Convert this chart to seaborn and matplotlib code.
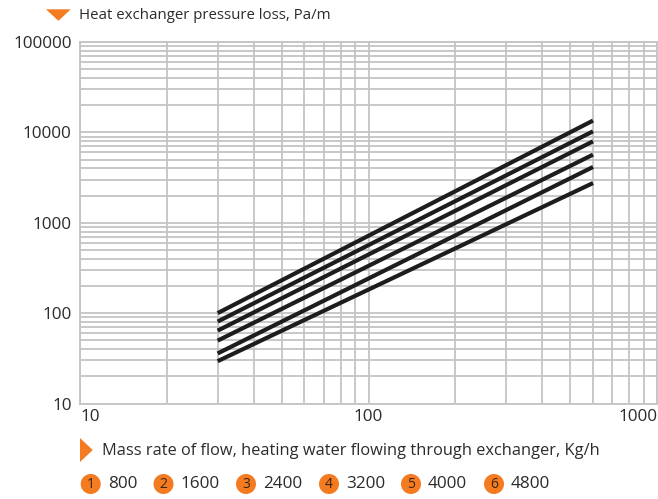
import matplotlib
matplotlib.use("Agg")
import matplotlib.pyplot as plt
import seaborn as sns
import pandas as pd
import numpy as np
from matplotlib.ticker import LogLocator, FixedLocator, NullFormatter
from matplotlib.patches import Polygon, Circle
from matplotlib.transforms import IdentityTransform

# ---- data ----
flow = [30, 600]
series_names = ["1", "2", "3", "4", "5", "6"]
line_1 = [100, 13500]
line_2 = [80.6, 10270]
line_3 = [64.0, 7960]
line_4 = [49.6, 5670]
line_5 = [35.8, 4140]
line_6 = [29.4, 2750]
legend_numbers = ["1", "2", "3", "4", "5", "6"]
legend_values = ["800", "1600", "2400", "3200", "4000", "4800"]
x_ticks = [10, 100, 1000]
y_ticks = [10, 100, 1000, 10000, 100000]

rows = []
for name, vals in zip(series_names, [line_1, line_2, line_3, line_4, line_5, line_6]):
    for x, y in zip(flow, vals):
        rows.append({"flow": x, "loss": y, "series": name})
df = pd.DataFrame(rows)

sns.set_theme(style="white")
plt.rcParams["font.family"] = ["Open Sans", "DejaVu Sans"]

ORANGE = "#f47b20"
GRID = "#c4c4c6"
TEXT = "#2b2b2b"
W, H = 658, 499

fig = plt.figure(figsize=(W / 100, H / 100), dpi=100)
ax = fig.add_axes([80 / W, 1 - 403.5 / H, 577 / W, 361.5 / H])

sns.lineplot(data=df, x="flow", y="loss", hue="series", palette=["#1f1c1d"] * 6,
             linewidth=3.0, legend=False, ax=ax, solid_capstyle="butt")

ax.set_xscale("log")
ax.set_yscale("log")
ax.set_xlim(10, 1000)
ax.set_ylim(10, 100000)

ax.xaxis.set_major_locator(FixedLocator(x_ticks))
ax.yaxis.set_major_locator(FixedLocator(y_ticks))
ax.xaxis.set_minor_locator(LogLocator(base=10, subs=np.arange(2, 10)))
ax.yaxis.set_minor_locator(LogLocator(base=10, subs=np.arange(2, 10)))
ax.xaxis.set_minor_formatter(NullFormatter())
ax.yaxis.set_minor_formatter(NullFormatter())
ax.set_xticklabels([str(v) for v in x_ticks])
ax.set_yticklabels([str(v) for v in y_ticks])

ax.grid(True, which="both", color=GRID, linewidth=1.3)
ax.set_axisbelow(True)
for s in ax.spines.values():
    s.set_color(GRID)
    s.set_linewidth(1.3)

ax.tick_params(axis="both", which="both", length=0, labelsize=12.3, colors=TEXT)
ax.tick_params(axis="y", pad=6)
ax.tick_params(axis="x", pad=4)
xl = ax.get_xticklabels()
xl[0].set_ha("left")
xl[-1].set_ha("right")
ax.set_xlabel("")
ax.set_ylabel("")


def px(x, y):
    return (x, H - y)


# title with orange down triangle
fig.add_artist(Polygon([px(46, 9.3), px(70.7, 9.3), px(58.4, 20.8)], closed=True,
                       fc=ORANGE, ec="none", transform=IdentityTransform()))
fig.text(79 / W, 1 - 15.5 / H, "Heat exchanger pressure loss, Pa/m", color=TEXT,
         fontsize=10.8, ha="left", va="center")

# x-axis label with orange right triangle
fig.add_artist(Polygon([px(80, 438), px(80, 462), px(92.7, 450)], closed=True,
                       fc=ORANGE, ec="none", transform=IdentityTransform()))
fig.text(102 / W, 1 - 451 / H, "Mass rate of flow, heating water flowing through exchanger, Kg/h",
         color=TEXT, fontsize=11.8, ha="left", va="center")

# legend items
circle_x = [90.7, 163.5, 246, 329, 411, 494]
for cx, num, val in zip(circle_x, legend_numbers, legend_values):
    fig.add_artist(Circle(px(cx, 484), 10, fc=ORANGE, ec="none", transform=IdentityTransform()))
    fig.text(cx / W, 1 - 484.5 / H, num, color="#3a2414", fontsize=10, ha="center", va="center")
    fig.text((cx + 17) / W, 1 - 484.5 / H, val, color=TEXT, fontsize=12.3, ha="left", va="center")

fig.savefig("out.png", dpi=100)
